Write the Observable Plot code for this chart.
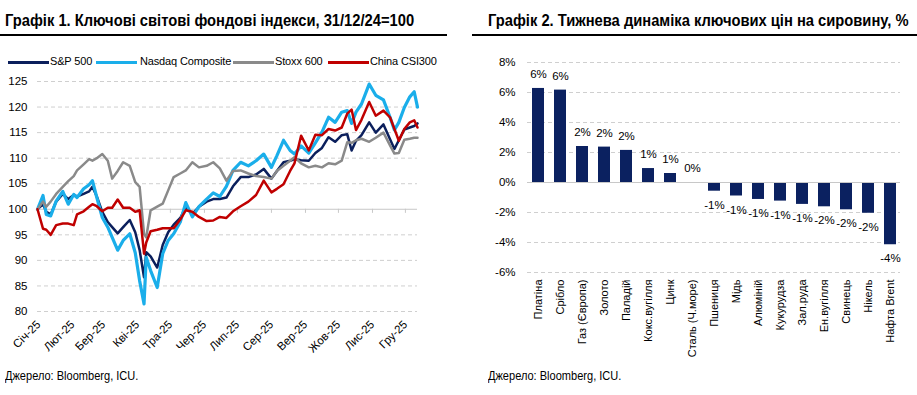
<!DOCTYPE html>
<html>
<head>
<meta charset="utf-8">
<script src="https://cdn.jsdelivr.net/npm/d3@7"></script>
<script src="https://cdn.jsdelivr.net/npm/@observablehq/plot@0.6"></script>
<style>
  body { margin:0; width:917px; height:395px; position:relative; background:#fff; overflow:hidden;
         font-family:"Liberation Sans", Arial, sans-serif; color:#000; }
  .title { position:absolute; top:12px; font-weight:bold; font-size:16px; white-space:nowrap;
           transform-origin:0 0; transform:scaleX(0.92); }
  .rule { position:absolute; top:34px; height:1.5px; background:#000; }
  .src { position:absolute; top:369px; font-size:12px; white-space:nowrap; transform-origin:0 0; transform:scaleX(0.92); }
  .sw { position:absolute; width:41px; }
  .lab { position:absolute; top:55px; font-size:11px; white-space:nowrap; letter-spacing:-0.15px; }
  #c1 { position:absolute; left:0; top:70px; }
  #c2 { position:absolute; left:460px; top:40px; }
</style>
</head>
<body>
<div class="title" style="left:5px">Графік 1. Ключові світові фондові індекси, 31/12/24=100</div>
<div class="rule" style="left:0;width:447px"></div>
<div class="title" style="left:488px">Графік 2. Тижнева динаміка ключових цін на сировину, %</div>
<div class="rule" style="left:472px;width:445px"></div>
<div id="legend"></div>
<div id="c1"></div>
<div id="c2"></div>
<div class="src" style="left:5px">Джерело: Bloomberg, ICU.</div>
<div class="src" style="left:488px">Джерело: Bloomberg, ICU.</div>
<script>
// ---------- Chart 1 data ----------
const dates = ["2024-12-31","2025-01-05","2025-01-08","2025-01-12","2025-01-17","2025-01-23","2025-01-28","2025-02-02","2025-02-05","2025-02-11","2025-02-16","2025-02-19","2025-02-23","2025-02-28","2025-03-05","2025-03-09","2025-03-14","2025-03-19","2025-03-25","2025-03-30","2025-04-03","2025-04-07","2025-04-09","2025-04-13","2025-04-19","2025-04-24","2025-04-29","2025-05-04","2025-05-10","2025-05-15","2025-05-21","2025-05-27","2025-06-03","2025-06-09","2025-06-15","2025-06-21","2025-06-27","2025-07-04","2025-07-11","2025-07-18","2025-07-25","2025-08-01","2025-08-06","2025-08-12","2025-08-18","2025-08-22","2025-08-28","2025-09-04","2025-09-10","2025-09-16","2025-09-22","2025-09-28","2025-10-04","2025-10-09","2025-10-13","2025-10-17","2025-10-22","2025-10-29","2025-11-04","2025-11-11","2025-11-17","2025-11-21","2025-11-25","2025-11-30","2025-12-05","2025-12-09","2025-12-12"];
const sp500  = [100,101,99.5,99,101.5,103,102,102.8,102.5,103,103.5,104.4,102.5,99.5,97.5,96.5,95.3,96.5,97.9,95.5,92,86.7,91.6,90.8,88.6,93,95.5,97,98.3,100.4,99.1,100.5,101.5,102,102,102.3,104.5,106.3,106.3,106.8,107.9,106,107.5,109.2,109.5,109.8,109.6,109.5,111,112,114.1,113.2,114.5,114.7,111.5,113.4,114.5,117,115,116.6,113.7,111.8,113.5,115.6,116,116.3,116.8];
const nasdaq = [100,102.7,99,98.7,101.6,103.5,101,102.9,102.3,104,104.8,105.6,102.3,98.4,96.5,94.5,92,93.9,95.2,91.5,86,81.5,90.6,88,84.7,91.3,93.9,95.2,97.5,101.3,98.5,100.5,102,103.2,102.5,104.5,107.6,109.2,108.5,109.5,110.8,108.2,110.5,113.5,111.5,110.8,112.4,111,113,115.1,118,117,119,119.3,116.8,119,120.6,124.5,122.3,121.4,118,115.5,117,119.9,122,123,120];
const stoxx  = [100,101.5,100.5,101.5,103,104.4,105.5,106.5,107.6,108.8,109.8,109.5,110,110.8,109.5,106,107.5,109.2,108.5,105.3,104.4,95.2,94.5,99.8,100.5,101.1,103.7,106.3,107,107.6,109.2,108.2,108.5,109.2,108,105.6,107.5,107.6,107,106.5,106.3,106,107.5,108.5,109.5,110.2,109,108.2,108.5,108.2,109,108.8,109.5,113.1,113,113.5,113.8,113.2,114,115,112.5,110.9,111,113.6,113.8,114,114];
const csi300 = [100,96.2,96,95,96.9,97.2,97.2,96.9,99,99.6,100.5,101,100.6,99.6,100.3,100.3,101.9,100.3,100.3,99.5,99.8,91.3,93.5,95.7,96,96.3,96.3,96.3,98,99.8,99.5,98.5,97.7,97.8,98.5,98.3,99.6,100.6,101.5,102.8,105.6,103.3,104,104.9,107.5,109,114.4,111.5,114.6,114.5,115.7,115.4,116,118.7,119.5,115.5,117.5,121,118.3,119.3,118,115.7,113.4,115.7,117,117.4,116];
const monthLabels = ["Січ-25","Лют-25","Бер-25","Кві-25","Тра-25","Чер-25","Лип-25","Сер-25","Вер-25","Жов-25","Лис-25","Гру-25"];
const yTicks1 = [80,85,90,95,100,105,110,115,120,125];

// ---------- Chart 2 data ----------
const categories = ["Платіна","Срібло","Газ (Європа)","Золото","Паладій","Кокс.вугілля","Цинк","Сталь (Ч.море)","Пшениця","Мідь","Алюміній","Кукурудза","Зал.руда","Ен.вугілля","Свинець","Нікель","Нафта Brent"];
const changes = [6.27,6.16,2.40,2.36,2.14,0.93,0.60,0.0,-0.58,-0.90,-1.13,-1.24,-1.46,-1.62,-1.82,-2.05,-4.15];
const yTicks2 = [-6,-4,-2,0,2,4,6,8];

// ---------- styles ----------
const series = [
  {name:"S&P 500", values:sp500, color:"#0b1f5c", w:2.5},
  {name:"Nasdaq Composite", values:nasdaq, color:"#1aaeea", w:3.2},
  {name:"Stoxx 600", values:stoxx, color:"#8a8a8a", w:2.5},
  {name:"China CSI300", values:csi300, color:"#c00000", w:2.5}
];
const legendSw = [8, 96, 233, 328];
const legendTx = [50, 140, 275, 370];
const parse = d3.utcParse("%Y-%m-%d");
const monthTicks = d3.range(12).map(m => new Date(Date.UTC(2025, m, 1)));
const font = "'Liberation Sans', Arial, sans-serif";

// legend
const leg = document.getElementById("legend");
series.forEach((s, i) => {
  const sw = document.createElement("span");
  sw.className = "sw";
  sw.style.left = legendSw[i] + "px";
  sw.style.top = (62.5 - s.w / 2) + "px";
  sw.style.height = s.w + "px";
  sw.style.background = s.color;
  const lab = document.createElement("span");
  lab.className = "lab";
  lab.style.left = legendTx[i] + "px";
  lab.textContent = s.name;
  leg.appendChild(sw); leg.appendChild(lab);
});

const lineMarks = series.map(s => Plot.line(dates.map((d,i)=>({date:parse(d), v:s.values[i]})), {
  x:"date", y:"v", stroke:s.color, strokeWidth:s.w, strokeLinejoin:"round", strokeLinecap:"round"
}));

const chart1 = Plot.plot({
  width:450, height:290,
  marginLeft:37, marginRight:33, marginTop:11, marginBottom:49,
  style:{fontFamily:font, fontSize:"11px", color:"#000", background:"#fff"},
  x:{type:"utc", domain:[parse("2024-12-31"), parse("2025-12-12")], label:null},
  y:{domain:[80,125], label:null},
  marks:[
    Plot.ruleY(yTicks1.filter(t=>t!==100), {stroke:"#cfcfcf", strokeWidth:1, strokeDasharray:"4,3"}),
    Plot.ruleY([100], {stroke:"#c8c8c8", strokeWidth:1}),
    Plot.ruleX(monthTicks, {x:d=>d, y1:100, y2:99.2, stroke:"#c8c8c8", strokeWidth:1}),
    ...lineMarks,
    Plot.axisY(yTicks1, {tickSize:0, tickPadding:10, fill:"#000", label:null, fontSize:11.5}),
    Plot.axisX(monthTicks, {tickSize:0, tickPadding:11, tickRotate:-45, fill:"#000", label:null, fontSize:11.5,
      tickFormat:d=>monthLabels[d.getUTCMonth()]})
  ]
});
document.getElementById("c1").appendChild(chart1);

const barData = categories.map((c,i)=>({c, v:changes[i]}));
const chart2 = Plot.plot({
  width:457, height:330,
  marginLeft:67, marginRight:17, marginTop:22, marginBottom:98,
  style:{fontFamily:font, fontSize:"11.5px", color:"#000", background:"#fff"},
  x:{type:"band", domain:categories, paddingInner:0.47, paddingOuter:0.11, label:null},
  y:{domain:[-6,8], label:null},
  marks:[
    Plot.ruleY(yTicks2.filter(t=>t!==0), {stroke:"#cfcfcf", strokeWidth:1, strokeDasharray:"4,3"}),
    Plot.barY(barData, {x:"c", y:"v", fill:"#0b2160"}),
    Plot.ruleY([0], {stroke:"#c8c8c8", strokeWidth:1}),
    Plot.text(barData.filter(d=>d.v>=0), {x:"c", y:"v", text:d=>Math.round(d.v)+"%", dy:-14, fill:"#000",
      lineAnchor:"middle", fontSize:11.5}),
    Plot.text(barData.filter(d=>d.v<0), {x:"c", y:"v", text:d=>Math.round(d.v)+"%", dy:14, fill:"#000",
      lineAnchor:"middle", fontSize:11.5}),
    Plot.axisY(yTicks2, {tickSize:0, tickPadding:12, fill:"#000", label:null, tickFormat:d=>d+"%"}),
    Plot.axisX({tickSize:0, tickPadding:7, tickRotate:-90, fill:"#000", label:null, fontSize:11})
  ]
});
document.getElementById("c2").appendChild(chart2);
</script>
</body>
</html>
